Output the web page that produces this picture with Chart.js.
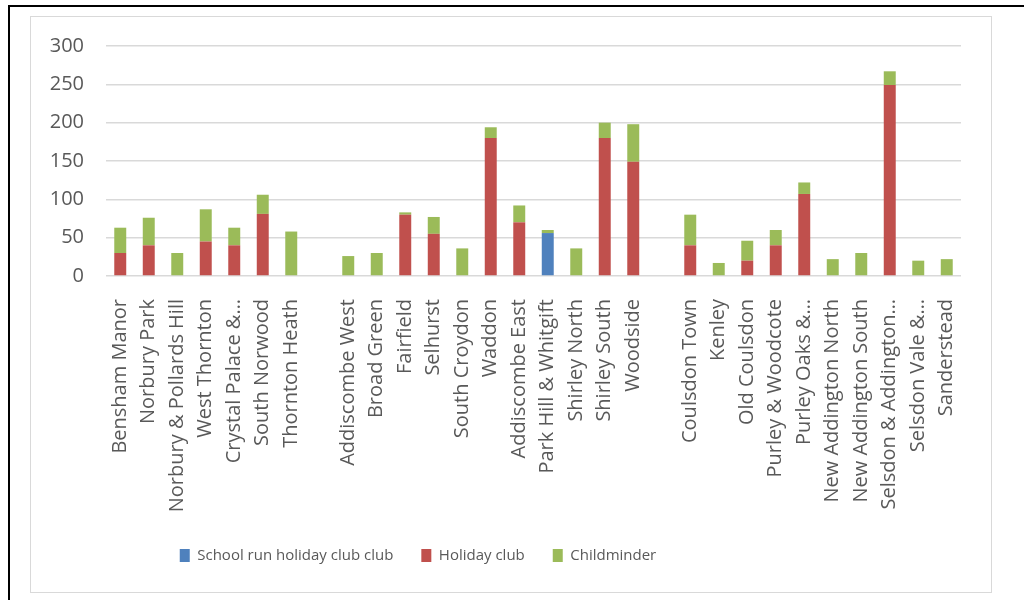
<!DOCTYPE html>
<html>
<head>
<meta charset="utf-8">
<script src="https://cdn.jsdelivr.net/npm/chart.js@4"></script>
<style>
  html, body { margin: 0; padding: 0; background: #fff; overflow: hidden; }
  #outer { position: absolute; left: 8px; top: 5px; width: 1100px; height: 700px; border-top: 2px solid #000; border-left: 2px solid #000; }
  #frame { position: absolute; left: 30px; top: 16px; width: 960px; height: 575px; border: 1px solid #d9d9d9; }
  #wrap { position: absolute; left: 31px; top: 12px; width: 959px; height: 579px; }
</style>
</head>
<body>
<div id="outer"></div>
<div id="frame"></div>
<div id="wrap"><canvas id="c"></canvas></div>
<script>
const categories = [
  "Bensham Manor", "Norbury Park", "Norbury & Pollards Hill", "West Thornton", "Crystal Palace &\u2026",
  "South Norwood", "Thornton Heath", "",
  "Addiscombe West", "Broad Green", "Fairfield", "Selhurst", "South Croydon", "Waddon",
  "Addiscombe East", "Park Hill & Whitgift", "Shirley North", "Shirley South", "Woodside", "",
  "Coulsdon Town", "Kenley", "Old Coulsdon", "Purley & Woodcote", "Purley Oaks &\u2026",
  "New Addington North", "New Addington South", "Selsdon & Addington\u2026", "Selsdon Vale &\u2026", "Sanderstead"
];
const schoolRun = [null,null,null,null,null,null,null,null, null,null,null,null,null,null,null,56,null,null,null,null, null,null,null,null,null,null,null,null,null,null];
const holidayClub = [30,40,null,45,40,81,null,null, null,null,80,55,null,180,70,null,null,180,149,null, 40,null,20,40,107,null,null,249,null,null];
const childminder = [33,36,30,42,23,25,58,null, 26,30,3,22,36,14,22,4,36,20,49,null, 40,17,26,20,15,22,30,18,20,22];
const seriesNames = ["School run holiday club club", "Holiday club", "Childminder"];
const yTicks = [0, 50, 100, 150, 200, 250, 300];

const gray = "#595959";

// Place the legend where the reference has it (a little left of centre)
const legendShift = {
  id: "legendShift",
  afterLayout(chart) {
    const lg = chart.legend;
    if (!lg) return;
    const dx = -78;
    lg.left += dx; lg.right += dx;
    const h = lg.bottom - lg.top;
    lg.top = 508; lg.bottom = lg.top + h;
  }
};

new Chart(document.getElementById("c"), {
  type: "bar",
  data: {
    labels: categories,
    datasets: [
      { label: seriesNames[0], data: schoolRun, backgroundColor: "#4F81BD" },
      { label: seriesNames[1], data: holidayClub, backgroundColor: "#C0504D" },
      { label: seriesNames[2], data: childminder, backgroundColor: "#9BBB59" }
    ]
  },
  plugins: [legendShift],
  options: {
    responsive: true,
    maintainAspectRatio: false,
    animation: false,
    datasets: { bar: { categoryPercentage: 1, barPercentage: 0.42 } },
    layout: { padding: { top: 20, right: 29, bottom: 14, left: 0 } },
    plugins: {
      tooltip: { enabled: false },
      legend: {
        position: "bottom",
        labels: {
          color: gray,
          font: { family: "'Open Sans', sans-serif", size: 15 },
          boxWidth: 10, boxHeight: 13, padding: 28
        }
      }
    },
    scales: {
      x: {
        stacked: true,
        grid: { display: false },
        border: { display: false },
        ticks: {
          autoSkip: false, maxRotation: 90, minRotation: 90, padding: 15,
          color: gray, font: { family: "'Open Sans', sans-serif", size: 20 }
        },
        afterFit: (s) => { s.height = 248; }
      },
      y: {
        stacked: true,
        min: yTicks[0], max: yTicks[yTicks.length - 1],
        afterBuildTicks: (s) => { s.ticks = yTicks.map(v => ({ value: v })); },
        grid: { color: "#d9d9d9", lineWidth: 1.5, drawTicks: false },
        border: { display: false },
        ticks: { padding: 22, color: gray, font: { family: "'Open Sans', sans-serif", size: 20 } },
        afterFit: (s) => { s.width = 75; }
      }
    }
  }
});
</script>
</body>
</html>
